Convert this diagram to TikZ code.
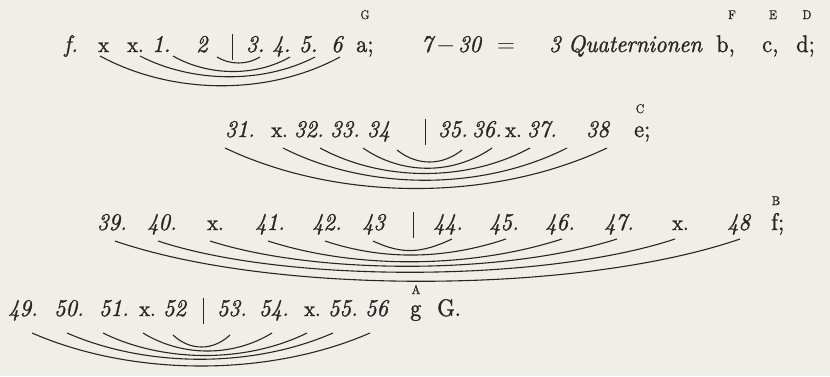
\documentclass[tikz,border=0pt]{standalone}
\usepackage{graphicx}
\usepackage{fontspec}
\newfontfamily\tokfont{lmroman10-regular.otf}[ItalicFont=lmroman10-italic.otf, FakeBold=1.2, FakeStretch=0.93]
\definecolor{paper}{RGB}{239,238,231}
\definecolor{ink}{RGB}{38,38,38}
\begin{document}
\begin{tikzpicture}[x=1pt,y=-1pt,
  tok/.style={inner sep=0pt, anchor=base west, text=ink, font=\tokfont\fontsize{24}{28}\selectfont},
  itok/.style={tok, font=\tokfont\fontsize{24}{28}\selectfont\itshape},
  xtok/.style={tok, font=\tokfont\fontsize{22}{26}\selectfont},
  lbl/.style={inner sep=0pt, anchor=base, text=ink, font=\tokfont\fontsize{12.5}{14}\selectfont},
  arcline/.style={draw=ink, line width=1.1pt},
  barline/.style={draw=ink, line width=0.9pt}]
\fill[paper] (0,0) rectangle (830,376);
\useasboundingbox (0,0) rectangle (830,376);
% ---------------- row 1
\node[itok] (r1f) at (64,52) {f.};
\node[xtok] (r1x) at (98,52) {x};
\node[xtok] (r1xx) at (127,52) {x.};
\node[itok] (r1n1) at (152,52) {1.};
\node[itok] (r1n2) at (196,52) {2};
\draw[barline] (232,34) -- (232,60);
\node[itok] (r1n3) at (246,52) {3.};
\node[itok] (r1n4) at (272,52) {4.};
\node[itok] (r1n5) at (299,52) {5.};
\node[itok] (r1n6) at (331,52) {6};
\node[tok] (r1a) at (356,52) {a;};
\node[itok] (r1s) at (421,52) {7};
\node[tok] (r1m) at (436,52) {$-$};
\node[itok] (r1t) at (458,52) {30};
\node[tok] (r1e) at (497,52) {$=$};
\node[itok] (r1d) at (549,52) {3};
\node[itok] (r1q) at (568,52) {Quaternionen};
\node[tok] (r1b) at (716,52) {b,};
\node[tok] (r1c) at (762,52) {c,};
\node[tok] (r1dd) at (796,52) {d;};
\node[lbl] (lG) at (365,19) {G};
\node[lbl] (lF) at (732,19) {F};
\node[lbl] (lE) at (773,19) {E};
\node[lbl] (lD) at (807,19) {D};
\coordinate (a1l) at (217,57); \coordinate (a1r) at (260,57);
\coordinate (b1l) at (173,56); \coordinate (b1r) at (290,57);
\coordinate (c1l) at (140,56); \coordinate (c1r) at (315,57);
\coordinate (d1l) at (100,56); \coordinate (d1r) at (340,57);
\draw[arcline] (a1l) .. controls +(13,8) and +(-13,8) .. (a1r);
\draw[arcline] (b1l) .. controls +(35,20) and +(-35,20) .. (b1r);
\draw[arcline] (c1l) .. controls +(52,27) and +(-52,27) .. (c1r);
\draw[arcline] (d1l) .. controls +(72,39) and +(-72,39) .. (d1r);
% ---------------- row 2
\node[itok] (r2a) at (225,137) {31.};
\node[xtok] (r2x) at (271,137) {x.};
\node[itok] (r2b) at (294,137) {32.};
\node[itok] (r2c) at (330,137) {33.};
\node[itok] (r2d) at (367,137) {34};
\draw[barline] (425,119) -- (425,145);
\node[itok] (r2e) at (438,137) {35.};
\node[itok] (r2f) at (472,137) {36.};
\node[xtok] (r2xx) at (505,137) {x.};
\node[itok] (r2g) at (527,137) {37.};
\node[itok] (r2h) at (586,137) {38};
\node[tok] (r2ee) at (634,137) {e;};
\node[lbl] (lC) at (640,113) {C};
\coordinate (a2l) at (397,150); \coordinate (a2r) at (462,150);
\coordinate (b2l) at (363,148); \coordinate (b2r) at (492,148);
\coordinate (c2l) at (320,148); \coordinate (c2r) at (530,148);
\coordinate (d2l) at (283,148); \coordinate (d2r) at (567,148);
\coordinate (e2l) at (225,148); \coordinate (e2r) at (607,148);
\draw[arcline] (a2l) .. controls +(20,16) and +(-20,16) .. (a2r);
\draw[arcline] (b2l) .. controls +(39,27) and +(-39,27) .. (b2r);
\draw[arcline] (c2l) .. controls +(63,34) and +(-63,34) .. (c2r);
\draw[arcline] (d2l) .. controls +(85,43) and +(-85,43) .. (d2r);
\draw[arcline] (e2l) .. controls +(114,54) and +(-114,54) .. (e2r);
% ---------------- row 3
\node[itok] (r3a) at (97,230) {39.};
\node[itok] (r3b) at (147,230) {40.};
\node[xtok] (r3x) at (207,230) {x.};
\node[itok] (r3c) at (255,230) {41.};
\node[itok] (r3d) at (312,230) {42.};
\node[itok] (r3e) at (362,230) {43};
\draw[barline] (413,212) -- (413,238);
\node[itok] (r3f) at (433,230) {44.};
\node[itok] (r3g) at (489,230) {45.};
\node[itok] (r3h) at (545,230) {46.};
\node[itok] (r3i) at (604,230) {47.};
\node[xtok] (r3xx) at (672,230) {x.};
\node[itok] (r3j) at (727,230) {48};
\node[tok] (r3ff) at (771,230) {f;};
\node[lbl] (lB) at (776,205) {B};
\coordinate (a3l) at (373,241); \coordinate (a3r) at (452,239);
\coordinate (b3l) at (325,241); \coordinate (b3r) at (506,239);
\coordinate (c3l) at (268,241); \coordinate (c3r) at (562,239);
\coordinate (d3l) at (210,241); \coordinate (d3r) at (617,239);
\coordinate (e3l) at (158,241); \coordinate (e3r) at (675,239);
\coordinate (f3l) at (115,241); \coordinate (f3r) at (740,239);
\draw[arcline] (a3l) .. controls +(30,14) and +(-30,14) .. (a3r);
\draw[arcline] (b3l) .. controls +(60,20) and +(-60,20) .. (b3r);
\draw[arcline] (c3l) .. controls +(90,29) and +(-90,29) .. (c3r);
\draw[arcline] (d3l) .. controls +(110,35) and +(-110,35) .. (d3r);
\draw[arcline] (e3l) .. controls +(130,43) and +(-130,43) .. (e3r);
\draw[arcline] (f3l) .. controls +(160,55) and +(-160,55) .. (f3r);
% ---------------- row 4
\node[itok] (r4a) at (8,316) {49.};
\node[itok] (r4b) at (54,316) {50.};
\node[itok] (r4c) at (99,316) {51.};
\node[xtok] (r4x) at (139,316) {x.};
\node[itok] (r4d) at (163,316) {52};
\draw[barline] (203,298) -- (203,324);
\node[itok] (r4e) at (217,316) {53.};
\node[itok] (r4f) at (259,316) {54.};
\node[xtok] (r4xx) at (304,316) {x.};
\node[itok] (r4g) at (328,316) {55.};
\node[itok] (r4h) at (365,316) {56};
\node[tok] (r4gg) at (410,316) {g};
\node[tok] (r4G) at (437,316) {G.};
\node[lbl] (lA) at (416,294) {A};
\coordinate (a4l) at (173,335); \coordinate (a4r) at (230,335);
\coordinate (b4l) at (143,333); \coordinate (b4r) at (272,333);
\coordinate (c4l) at (103,333); \coordinate (c4r) at (307,333);
\coordinate (d4l) at (67,333); \coordinate (d4r) at (333,333);
\coordinate (e4l) at (32,333); \coordinate (e4r) at (370,333);
\draw[arcline] (a4l) .. controls +(17,16) and +(-17,16) .. (a4r);
\draw[arcline] (b4l) .. controls +(39,24) and +(-39,24) .. (b4r);
\draw[arcline] (c4l) .. controls +(61,30) and +(-61,30) .. (c4r);
\draw[arcline] (d4l) .. controls +(80,35) and +(-80,35) .. (d4r);
\draw[arcline] (e4l) .. controls +(101,44) and +(-101,44) .. (e4r);
\end{tikzpicture}
\end{document}
